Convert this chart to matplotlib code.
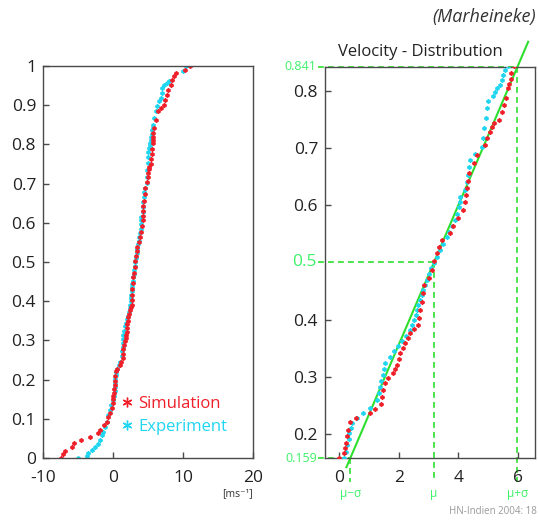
import matplotlib
matplotlib.use("Agg")
import matplotlib.pyplot as plt
from matplotlib.lines import Line2D

plt.rcParams['font.family'] = ['Open Sans', 'DejaVu Sans']

# ---- data ----
sim_p = [0.000, 0.009, 0.018, 0.029, 0.037, 0.046, 0.054, 0.063, 0.071, 0.084, 0.093,
         0.104, 0.114, 0.127, 0.140, 0.150, 0.159, 0.167, 0.177, 0.186, 0.197, 0.208,
         0.221, 0.228, 0.237, 0.245, 0.254, 0.266, 0.278, 0.289, 0.298, 0.307, 0.314,
         0.321, 0.331, 0.342, 0.350, 0.359, 0.368, 0.377, 0.384, 0.391, 0.404, 0.417,
         0.431, 0.446, 0.461, 0.473, 0.487, 0.502, 0.516, 0.527, 0.539, 0.551, 0.563,
         0.577, 0.592, 0.606, 0.618, 0.630, 0.643, 0.656, 0.673, 0.688, 0.705, 0.717,
         0.728, 0.737, 0.743, 0.749, 0.763, 0.775, 0.787, 0.804, 0.812, 0.820, 0.830,
         0.842, 0.863, 0.884, 0.893, 0.901, 0.914, 0.927, 0.940, 0.952, 0.965, 0.974,
         0.982, 0.991, 1.000]
sim_v = [-7.43, -7.10, -6.86, -5.81, -5.52, -4.57, -3.29, -2.19, -1.86, -1.24, -0.90,
         -0.65, -0.43, -0.19, -0.05, 0.00, 0.01, 0.17, 0.20, 0.23, 0.27, 0.31,
         0.37, 0.57, 1.04, 1.20, 1.41, 1.43, 1.49, 1.54, 1.65, 1.82, 1.88,
         1.94, 2.00, 2.05, 2.13, 2.21, 2.30, 2.38, 2.52, 2.66, 2.69, 2.72,
         2.77, 2.81, 2.85, 3.03, 3.11, 3.20, 3.28, 3.36, 3.45, 3.72, 3.81,
         4.00, 4.15, 4.23, 4.27, 4.30, 4.33, 4.37, 4.53, 4.62, 4.90, 4.96,
         5.05, 5.14, 5.20, 5.37, 5.45, 5.52, 5.60, 5.68, 5.71, 5.75, 5.77,
         5.85, 6.10, 6.38, 6.86, 7.33, 7.43, 7.67, 7.90, 8.29, 8.48, 8.76,
         8.95, 10.29, 11.00]

exp_p = [0.000, 0.006, 0.012, 0.020, 0.029, 0.035, 0.046, 0.059, 0.067, 0.080, 0.093,
         0.110, 0.122, 0.135, 0.148, 0.159, 0.170, 0.181, 0.192, 0.202, 0.211, 0.220,
         0.228, 0.237, 0.246, 0.260, 0.272, 0.283, 0.293, 0.303, 0.314, 0.324, 0.336,
         0.345, 0.354, 0.363, 0.372, 0.382, 0.391, 0.400, 0.408, 0.417, 0.426, 0.435,
         0.443, 0.452, 0.461, 0.470, 0.480, 0.490, 0.499, 0.510, 0.522, 0.533, 0.545,
         0.554, 0.563, 0.574, 0.585, 0.596, 0.606, 0.615, 0.627, 0.640, 0.653, 0.666,
         0.679, 0.689, 0.702, 0.717, 0.734, 0.752, 0.769, 0.781, 0.790, 0.798, 0.804,
         0.810, 0.819, 0.827, 0.836, 0.842, 0.850, 0.867, 0.884, 0.897, 0.910, 0.918,
         0.931, 0.944, 0.952, 0.957, 0.962, 0.988, 1.000]
exp_v = [-4.95, -3.76, -3.52, -3.05, -2.57, -2.19, -1.86, -1.62, -1.38, -1.14, -0.90,
         -0.67, -0.43, -0.25, -0.05, 0.17, 0.22, 0.28, 0.32, 0.35, 0.39, 0.43,
         0.60, 0.82, 1.04, 1.26, 1.33, 1.38, 1.42, 1.46, 1.50, 1.54, 1.71,
         1.85, 1.98, 2.10, 2.24, 2.38, 2.45, 2.52, 2.57, 2.61, 2.66, 2.72,
         2.77, 2.82, 2.88, 2.94, 3.02, 3.10, 3.17, 3.28, 3.39, 3.50, 3.61,
         3.70, 3.78, 3.89, 3.96, 4.02, 4.06, 4.06, 4.23, 4.28, 4.32, 4.36,
         4.40, 4.55, 4.79, 4.82, 4.87, 4.93, 4.96, 5.01, 5.16, 5.23, 5.29,
         5.40, 5.46, 5.51, 5.57, 5.65, 5.70, 5.90, 6.10, 6.29, 6.57, 6.86,
         6.95, 7.05, 7.33, 7.67, 8.05, 10.05, 10.38]

mu, sigma = 3.18, 2.80
left_xticks = [-10, 0, 10, 20]
left_xlabels = ['-10', '0', '10', '20']
left_yticks = [0, 0.1, 0.2, 0.3, 0.4, 0.5, 0.6, 0.7, 0.8, 0.9, 1]
left_ylabels = ['0', '0.1', '0.2', '0.3', '0.4', '0.5', '0.6', '0.7', '0.8', '0.9', '1']
right_xticks = [0, 2, 4, 6]
right_yticks = [0.2, 0.3, 0.4, 0.6, 0.7, 0.8]
green_yticks = [0.159, 0.5, 0.841]

RED = '#f0202a'
CYAN = '#1fd5f0'
GREEN = '#2de02d'
GREEN_T = '#3ef06a'
SPINE = '#4a4a4a'

W, H = 538, 521
fig = plt.figure(figsize=(W / 100, H / 100), dpi=100)

def px_axes(x0, x1, y0, y1):
    return fig.add_axes([x0 / W, 1 - y1 / H, (x1 - x0) / W, (y1 - y0) / H])

axL = px_axes(43, 253, 66, 458)
axR = px_axes(325, 535, 67, 458)

mk = dict(marker=(6, 2, 0), linestyle='none', markersize=3.0, markeredgewidth=1.1)

for ax in (axL, axR):
    for s in ax.spines.values():
        s.set_color(SPINE)
        s.set_linewidth(1.0)
    ax.tick_params(direction='in', length=4, width=1, color=SPINE,
                   labelsize=12.5, labelcolor='#222222')
    ax.tick_params(axis='x', pad=9)
    ax.tick_params(axis='y', pad=5)

# Left panel
axL.plot(exp_v, exp_p, color=CYAN, **mk)
axL.plot(sim_v, sim_p, color=RED, **mk)
axL.set_xlim(-10, 20)
axL.set_ylim(0, 1)
axL.set_xticks(left_xticks)
axL.set_xticklabels(left_xlabels)
axL.set_yticks(left_yticks)
axL.set_yticklabels(left_ylabels)
axL.text(1.0, -0.078, '[ms\u207b\u00b9]', transform=axL.transAxes, ha='right', va='top',
         fontsize=7.5, color='#333333')

hs = [Line2D([], [], color=RED, marker=(6, 2, 0), linestyle='none', markersize=7, markeredgewidth=1.0),
      Line2D([], [], color=CYAN, marker=(6, 2, 0), linestyle='none', markersize=7, markeredgewidth=1.0)]
leg = axL.legend(hs, ['Simulation', 'Experiment'], loc='upper left', bbox_to_anchor=(0.367, 0.158),
                 frameon=False, fontsize=12, handlelength=0.8, handletextpad=0.3,
                 labelspacing=0.42, borderpad=0, borderaxespad=0)
for t, c in zip(leg.get_texts(), [RED, CYAN]):
    t.set_color(c)

# Right panel
xl0, xl1 = -0.47, 6.57
axR.set_xlim(xl0, xl1)
axR.set_ylim(0.159, 0.841)
axR.set_xticks(right_xticks)
axR.set_yticks(right_yticks)
axR.set_yticklabels([f'{v:g}' for v in right_yticks])

# fit line extending beyond the axes
p_line = [0.143, 0.885]
x_line = [mu + sigma * (p - 0.5) / 0.341 for p in p_line]
axR.plot(x_line, p_line, color=GREEN, lw=1.5, clip_on=False, zorder=2)

dash = dict(color=GREEN, lw=1.2, linestyle=(0, (3.5, 2.5)), clip_on=False, zorder=1.5)
xq = [mu - sigma, mu, mu + sigma]
for xv, pv in zip(xq, green_yticks):
    axR.plot([xl0 - 0.24, xv], [pv, pv], **dash)
    axR.plot([xv, xv], [pv, 0.117], **dash)

axR.plot(exp_v, exp_p, color=CYAN, zorder=3, **mk)
axR.plot(sim_v, sim_p, color=RED, zorder=3, **mk)

# green value labels
for pv, fs in zip(green_yticks, [9, 12.5, 9]):
    axR.text(xl0 - 0.28, pv, f'{pv:g}', ha='right', va='center', fontsize=fs, color=GREEN_T)
for xv, lab in zip(xq, ['\u03bc\u2212\u03c3', '\u03bc', '\u03bc+\u03c3']):
    axR.text(xv, 0.108, lab, ha='center', va='top', fontsize=8.5, color=GREEN_T)

fig.text(420 / W, 1 - 52 / H, 'Velocity - Distribution', ha='center', va='center',
         fontsize=12, color='#222222')
fig.text(536 / W, 1 - 17 / H, '(Marheineke)', ha='right', va='center',
         fontsize=13, style='italic', color='#333333')
fig.text(537 / W, 1 - 512 / H, 'HN-Indien 2004: 18', ha='right', va='center',
         fontsize=7, color='#999999')

fig.savefig('out.png', dpi=100)
